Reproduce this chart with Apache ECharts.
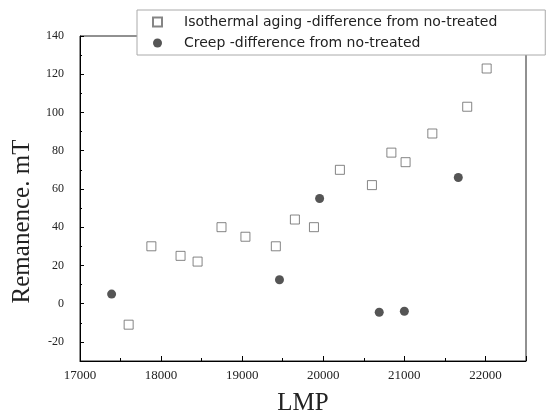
<!DOCTYPE html>
<html>
<head>
<meta charset="utf-8">
<script src="https://cdn.jsdelivr.net/npm/echarts@6/dist/echarts.min.js"></script>
<style>
html,body{margin:0;padding:0;background:#fff;}
#chart{width:547px;height:417px;}
</style>
</head>
<body>
<div id="chart"></div>
<script>
var isoX = [17600, 17880, 18240, 18450, 18745, 19040, 19415, 19650, 19885, 20205, 20600, 20840, 21015, 21345, 21775, 22015];
var isoY = [-11, 30, 25, 22, 40, 35, 30, 44, 40, 70, 62, 79, 74, 89, 103, 123];
var creepX = [17390, 19460, 19955, 20690, 21000, 21665];
var creepY = [5, 12.5, 55, -4.5, -4, 66];
var seriesNames = ['Isothermal aging -difference from no-treated', 'Creep -difference from no-treated'];
var xTitle = 'LMP';
var yTitle = 'Remanence. mT';

function pairs(xs, ys) { return xs.map(function (x, i) { return [x, ys[i]]; }); }

var serif = "'Liberation Serif', 'Times New Roman', serif";
var chart = echarts.init(document.getElementById('chart'), null, {renderer: 'canvas'});
chart.setOption({
  backgroundColor: '#fff',
  animation: false,
  grid: {left: 80, right: 21, top: 36, bottom: 56, show: true, borderColor: '#222', borderWidth: 1,
    backgroundColor: 'transparent', containLabel: false, outerBoundsMode: 'none'},
  legend: {
    orient: 'vertical', left: 137, top: 10,
    padding: [5, 48, 5, 15],
    itemWidth: 9, itemHeight: 9, itemGap: 7,
    backgroundColor: '#fff', borderColor: '#aaa', borderWidth: 1,
    textStyle: {fontFamily: "'DejaVu Sans', sans-serif", fontSize: 14, color: '#222', lineHeight: 14, padding: [0, 0, 0, 17]},
    data: seriesNames,
    z: 10
  },
  xAxis: {
    type: 'value', min: 17000, max: 22500, interval: 1000,
    name: xTitle, nameLocation: 'middle', nameGap: 30,
    nameTextStyle: {fontFamily: serif, fontSize: 25, color: '#222'},
    axisLine: {show: true, onZero: false, lineStyle: {color: '#000', width: 1}},
    axisTick: {show: true, inside: true, length: 5, lineStyle: {color: '#000'}},
    minorTick: {show: true, splitNumber: 2, length: 3, lineStyle: {color: '#000'}},
    splitLine: {show: false},
    axisLabel: {fontFamily: serif, fontSize: 13, color: '#222', margin: 8, showMaxLabel: false,
      formatter: function (v) { return String(v); }}
  },
  yAxis: {
    type: 'value', min: -30, max: 140, splitNumber: 8,
    name: yTitle, nameLocation: 'middle', nameGap: 44,
    nameTextStyle: {fontFamily: serif, fontSize: 25, color: '#222', padding: [0, 46, 0, 0]},
    axisLine: {show: true, onZero: false, lineStyle: {color: '#000', width: 1}},
    axisTick: {show: true, inside: true, length: 4, lineStyle: {color: '#000'}},
    minorTick: {show: true, splitNumber: 2, length: 2, lineStyle: {color: '#000'}},
    splitLine: {show: false},
    axisLabel: {fontFamily: serif, fontSize: 12, color: '#222', margin: 16, showMinLabel: false,
      formatter: function (v) { return String(v); }}
  },
  series: [
    {
      name: seriesNames[0], type: 'scatter', symbol: 'rect', symbolSize: 9,
      itemStyle: {color: '#fff', borderColor: '#666', borderWidth: 1},
      data: pairs(isoX, isoY), z: 3
    },
    {
      name: seriesNames[1], type: 'scatter', symbol: 'circle', symbolSize: 9,
      itemStyle: {color: '#2a2a2a', borderColor: '#2a2a2a', borderWidth: 0},
      data: pairs(creepX, creepY), z: 4
    }
  ]
});
</script>
</body>
</html>
